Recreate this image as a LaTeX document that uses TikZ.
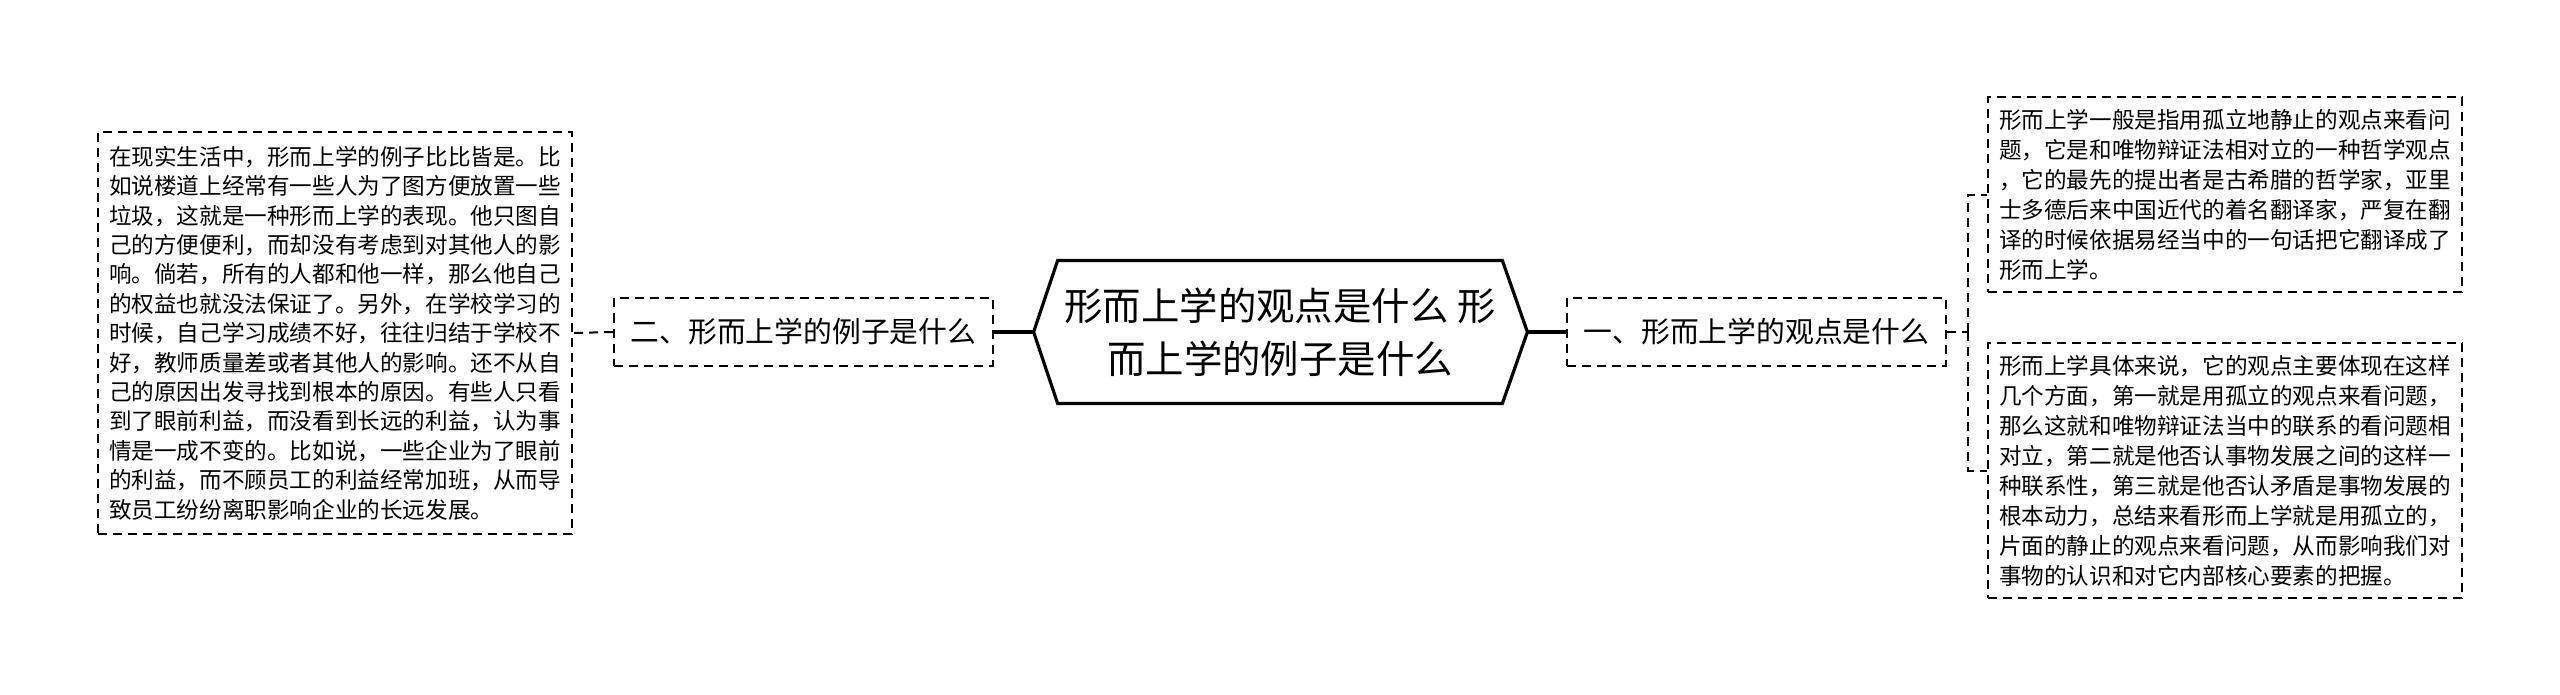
\documentclass[tikz,border=0pt]{standalone}
\usepackage{fontspec}
\setmainfont{Noto Sans CJK SC}
\usetikzlibrary{calc}
\begin{document}
\begin{tikzpicture}[x=0.5pt,y=-0.5pt,
  dl/.style={draw,line width=1pt,dash pattern=on 4.5pt off 3pt},
  sl/.style={draw,line width=1.6pt},
  topic/.style={dl,font=\fontsize{14.4pt}{17pt}\selectfont,minimum width=189.5pt,minimum height=33.5pt,inner sep=0pt},
  leaf/.style={dl,font=\fontsize{11.3pt}{#1}\selectfont,text width=226pt,align=left,inner xsep=5.5pt,inner ysep=0pt}]
\path[fill=white,use as bounding box] (0,0) rectangle (2560,695);
% centre
\node[minimum width=222pt,minimum height=71pt,inner sep=0pt,align=center,font=\fontsize{19.2pt}{26.5pt}\selectfont] (root) at (1280,332) {形而上学的观点是什么 形\\而上学的例子是什么};
\draw[sl] (root.north west) -- (root.north east) -- ($(root.east)+(25,0)$) coordinate (rootE) -- (root.south east) -- (root.south west) -- ($(root.west)+(-24,0)$) coordinate (rootW) -- cycle;
% branches
\node[topic] (t2) at (803.5,332) {二、形而上学的例子是什么};
\node[topic] (t1) at (1756.5,332) {一、形而上学的观点是什么};
\node[leaf=14.7pt,minimum height=200.5pt] (ex) at (335,333) {在现实生活中，形而上学的例子比比皆是。比\\如说楼道上经常有一些人为了图方便放置一些\\垃圾，这就是一种形而上学的表现。他只图自\\己的方便便利，而却没有考虑到对其他人的影\\响。倘若，所有的人都和他一样，那么他自己\\的权益也就没法保证了。另外，在学校学习的\\时候，自己学习成绩不好，往往归结于学校不\\好，教师质量差或者其他人的影响。还不从自\\己的原因出发寻找到根本的原因。有些人只看\\到了眼前利益，而没看到长远的利益，认为事\\情是一成不变的。比如说，一些企业为了眼前\\的利益，而不顾员工的利益经常加班，从而导\\致员工纷纷离职影响企业的长远发展。};
\node[leaf=15pt,minimum height=97.5pt] (p1) at (2225,195) {形而上学一般是指用孤立地静止的观点来看问\\题，它是和唯物辩证法相对立的一种哲学观点\\，它的最先的提出者是古希腊的哲学家，亚里\\士多德后来中国近代的着名翻译家，严复在翻\\译的时候依据易经当中的一句话把它翻译成了\\形而上学。};
\node[leaf=15pt,minimum height=127.5pt] (p2) at (2225,470.5) {形而上学具体来说，它的观点主要体现在这样\\几个方面，第一就是用孤立的观点来看问题，\\那么这就和唯物辩证法当中的联系的看问题相\\对立，第二就是他否认事物发展之间的这样一\\种联系性，第三就是他否认矛盾是事物发展的\\根本动力，总结来看形而上学就是用孤立的，\\片面的静止的观点来看问题，从而影响我们对\\事物的认识和对它内部核心要素的把握。};
% links
\draw[sl] (rootW) -- (t2.east);\draw[sl] (rootE) -- (t1.west);
\draw[dl] (t2.west) -- (ex.east);
\draw[dl] (t1.east) -- ++(21,0) coordinate (fork);
\draw[dl] (fork) |- (p1.west);\draw[dl] (fork) |- (p2.west);
\end{tikzpicture}
\end{document}
